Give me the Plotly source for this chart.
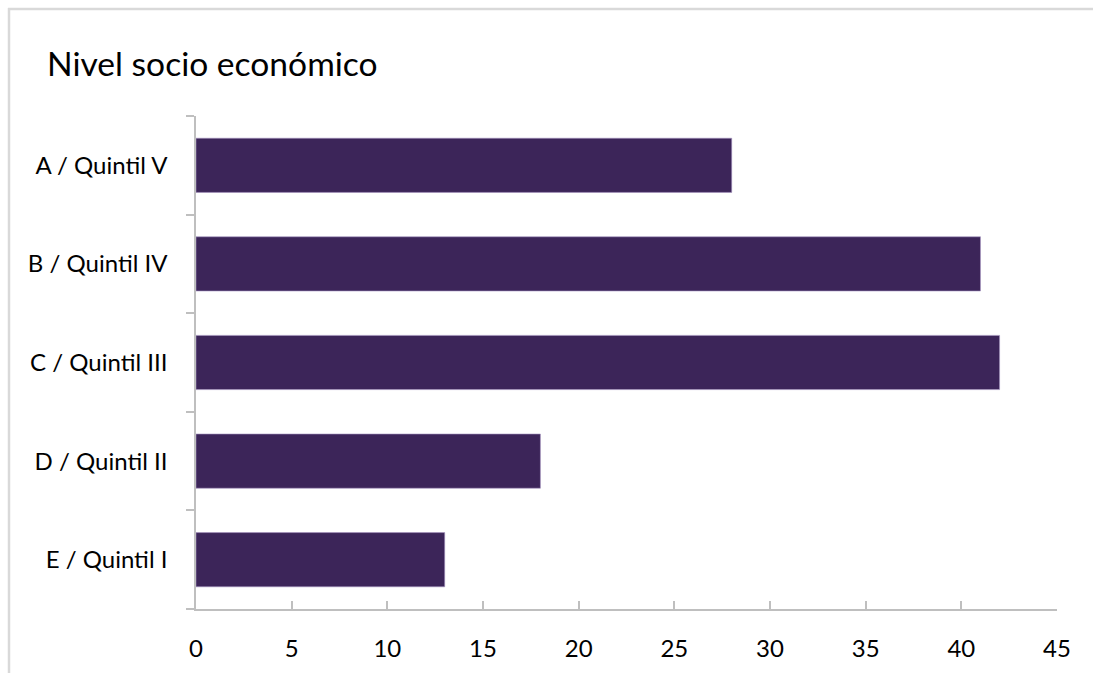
import plotly.graph_objects as go

# Socio-economic level shares
categories = ["A / Quintil V", "B / Quintil IV", "C / Quintil III", "D / Quintil II", "E / Quintil I"]
values = [28, 41, 42, 18, 13]
x_ticks = [0, 5, 10, 15, 20, 25, 30, 35, 40, 45]

W, H = 1094, 673
ML, MR, MT, MB = 196, 37, 116, 64
PW, PH = W - ML - MR, H - MT - MB


def px_x(p):
    return (p - ML) / PW


def px_y(p):
    return (H - MB - p) / PH


fig = go.Figure(
    go.Bar(
        y=categories,
        x=values,
        orientation="h",
        marker=dict(color="#3c2559", line=dict(color="#a897c2", width=0.6)),
        hoverinfo="x+y",
    )
)

axis_col = "#bfbfbf"
font_family = "Lato, 'Open Sans', sans-serif"

fig.update_layout(
    width=W,
    height=H,
    margin=dict(l=ML, r=MR, t=MT, b=MB),
    paper_bgcolor="white",
    plot_bgcolor="white",
    bargap=0.45,
    showlegend=False,
    font=dict(family=font_family, color="#000000", size=24),
    title=dict(
        text="Nivel socio económico",
        x=47 / W,
        xanchor="left",
        y=1 - 64 / H,
        yanchor="middle",
        font=dict(size=33.6, family=font_family, color="#000000"),
    ),
    xaxis=dict(
        range=[0, 45],
        tickvals=x_ticks,
        showgrid=False,
        zeroline=False,
        showline=True,
        linecolor=axis_col,
        linewidth=1.5,
        ticks="inside",
        ticklen=8,
        tickcolor=axis_col,
        tickwidth=1.5,
        ticklabelstandoff=17,
        tickfont=dict(size=24),
    ),
    yaxis=dict(
        categoryorder="array",
        categoryarray=list(reversed(categories)),
        showgrid=False,
        zeroline=False,
        showline=True,
        linecolor=axis_col,
        linewidth=1.5,
        ticks="outside",
        tickson="boundaries",
        ticklen=8,
        tickcolor=axis_col,
        tickwidth=1.5,
        ticklabelstandoff=22,
        tickfont=dict(size=24),
    ),
    # Light frame along the top and left edges of the page
    shapes=[
        dict(type="line", xref="paper", yref="paper",
             x0=px_x(8), x1=px_x(1093), y0=px_y(9), y1=px_y(9),
             line=dict(color="#d9d9d9", width=2.5)),
        dict(type="line", xref="paper", yref="paper",
             x0=px_x(9), x1=px_x(9), y0=px_y(8), y1=px_y(H),
             line=dict(color="#d9d9d9", width=2.5)),
    ],
)

fig.write_html("out.html", config={"displayModeBar": False})
